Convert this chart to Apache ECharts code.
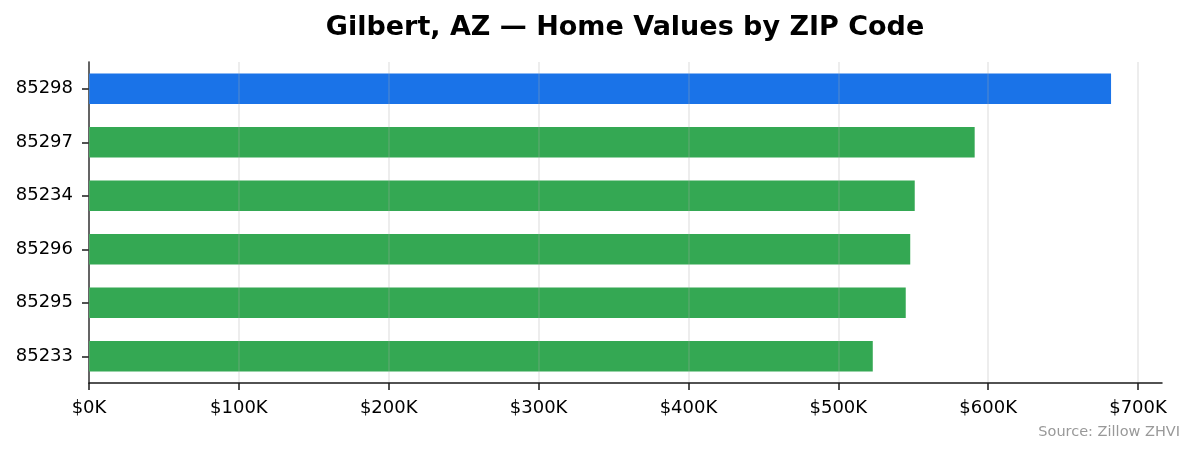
<!DOCTYPE html>
<html>
<head>
<meta charset="utf-8">
<script src="https://cdn.jsdelivr.net/npm/echarts@6/dist/echarts.min.js"></script>
<style>
html, body { margin: 0; padding: 0; background: #fff; }
#chart { width: 1195px; height: 455px; }
</style>
</head>
<body>
<div id="chart"></div>
<script>
// ZIP codes, top to bottom
var zips = ['85298', '85297', '85234', '85296', '85295', '85233'];
// typical home value (ZHVI), dollars
var homeValues = [682000, 591000, 551000, 548000, 545000, 523000];
var highlightZip = '85298';

var chart = echarts.init(document.getElementById('chart'));

var barData = homeValues.map(function (v, i) {
    return {
        value: v,
        itemStyle: { color: zips[i] === highlightZip ? '#1a73e8' : '#34a853' }
    };
});

chart.setOption({
    animation: false,
    backgroundColor: '#fff',
    textStyle: { fontFamily: 'DejaVu Sans' },
    // title sits centred over the plot area, not the whole canvas
    graphic: [{
        type: 'text',
        x: 625,
        y: 28,
        style: {
            text: 'Gilbert, AZ — Home Values by ZIP Code',
            fill: '#000',
            font: 'bold 27px "DejaVu Sans"',
            textAlign: 'center',
            textVerticalAlign: 'middle'
        }
    }, {
        type: 'text',
        right: 15,
        top: 425,
        style: { text: 'Source: Zillow ZHVI', fill: '#999', font: '14.5px "DejaVu Sans"' }
    }],
    grid: { left: 89, right: 33, top: 62, height: 321, containLabel: false },
    xAxis: {
        type: 'value',
        min: 0,
        max: 716000,
        interval: 100000,
        z: 5,
        axisLine: { show: true, lineStyle: { color: '#1a1a1a', width: 1.5 } },
        axisTick: { show: true, length: 7, lineStyle: { color: '#1a1a1a', width: 1.5 } },
        axisLabel: {
            color: '#000',
            fontSize: 18,
            margin: 16,
            showMaxLabel: false,
            formatter: function (v) { return '$' + Math.round(v / 1000) + 'K'; }
        },
        splitLine: {
            show: true,
            showMaxLine: false,
            lineStyle: { color: 'rgba(170,170,170,0.28)', width: 1.5 }
        }
    },
    yAxis: {
        type: 'category',
        data: zips,
        inverse: true,
        axisLine: { show: true, lineStyle: { color: '#1a1a1a', width: 1.5 } },
        axisTick: { show: true, alignWithLabel: true, length: 7, lineStyle: { color: '#1a1a1a', width: 1.5 } },
        axisLabel: { color: '#000', fontSize: 18, margin: 16 },
        splitLine: { show: false }
    },
    series: [{
        type: 'bar',
        data: barData,
        barWidth: '57%'
    }]
});
</script>
</body>
</html>
